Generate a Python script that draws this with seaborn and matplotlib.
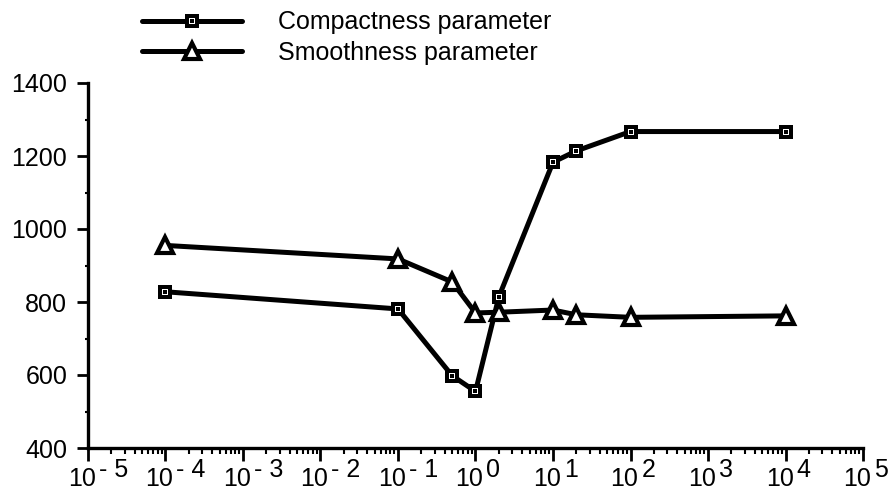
import numpy as np
import pandas as pd
import matplotlib
matplotlib.use("Agg")
import matplotlib.pyplot as plt
import matplotlib.transforms as mtransforms
from matplotlib.ticker import LogLocator, MultipleLocator, FixedLocator, NullFormatter
from matplotlib.legend_handler import HandlerTuple
import seaborn as sns

# ---- data ----
x_values = [1e-4, 1e-1, 0.5, 1, 2, 10, 20, 100, 1e4]
compactness = [828, 781, 598, 555, 814, 1183, 1214, 1267, 1267]
smoothness = [955, 918, 855, 770, 772, 778, 765, 758, 762]
series_labels = ["Compactness parameter", "Smoothness parameter"]
y_ticks = [400, 600, 800, 1000, 1200, 1400]
x_exponents = [-5, -4, -3, -2, -1, 0, 1, 2, 3, 4, 5]

sns.set_theme(style="white")
plt.rcParams["font.family"] = ["Liberation Sans", "DejaVu Sans"]
plt.rcParams["text.color"] = "black"

W, H = 895, 495
fig = plt.figure(figsize=(W / 100, H / 100), dpi=100)
ax = fig.add_axes([88 / W, 1 - 448 / H, (863 - 88) / W, (448 - 83) / H])

df = pd.DataFrame({"x": x_values, "compactness": compactness, "smoothness": smoothness})

# Compactness: black square with white ring and black centre dot
sns.lineplot(data=df, x="x", y="compactness", ax=ax, color="black", lw=3.6,
             marker="s", markersize=10, markerfacecolor="black",
             markeredgecolor="black", markeredgewidth=0, errorbar=None, zorder=3)
lc = ax.lines[-1]
sns.lineplot(data=df, x="x", y="compactness", ax=ax, color="black", linestyle="none",
             marker="s", markersize=5, markerfacecolor="white",
             markeredgecolor="white", markeredgewidth=0, errorbar=None, zorder=4)
lc_w = ax.lines[-1]
sns.lineplot(data=df, x="x", y="compactness", ax=ax, color="black", linestyle="none",
             marker="s", markersize=2.2, markerfacecolor="black",
             markeredgecolor="black", markeredgewidth=0, errorbar=None, zorder=5)
lc_d = ax.lines[-1]

# Smoothness: open triangles
sns.lineplot(data=df, x="x", y="smoothness", ax=ax, color="black", lw=3.6,
             marker="^", markersize=11.5, markerfacecolor="white",
             markeredgecolor="black", markeredgewidth=3, errorbar=None, zorder=6)
ls = ax.lines[-1]

ax.set_xscale("log")
ax.set_xlim(1e-5, 1e5)
ax.set_ylim(400, 1400)
ax.set_xlabel("")
ax.set_ylabel("")

ax.xaxis.set_major_locator(LogLocator(base=10, numticks=20))
ax.xaxis.set_minor_locator(LogLocator(base=10, subs=np.arange(2, 10), numticks=20))
ax.xaxis.set_minor_formatter(NullFormatter())
ax.yaxis.set_major_locator(FixedLocator(y_ticks))
ax.yaxis.set_minor_locator(MultipleLocator(100))

for s in ["top", "right"]:
    ax.spines[s].set_visible(False)
for s in ["left", "bottom"]:
    ax.spines[s].set_linewidth(2.4)
    ax.spines[s].set_color("black")

ax.tick_params(axis="x", which="major", direction="out", length=9, width=2,
               color="black", labelbottom=False, bottom=True)
ax.tick_params(axis="x", which="minor", direction="out", length=4, width=1.5,
               color="black", bottom=True)
ax.tick_params(axis="y", which="major", direction="out", length=8, width=2,
               color="black", labelcolor="black", pad=7, labelsize=18, left=True)
ax.tick_params(axis="y", which="minor", direction="out", length=2.5, width=1.5,
               color="black", left=True)

# x tick labels: "10" with raised exponent
base_trans = mtransforms.blended_transform_factory(ax.transData, ax.transAxes)
for e in x_exponents:
    xv = 10.0 ** e
    t1 = mtransforms.offset_copy(base_trans, fig=fig, x=8, y=-38, units="dots")
    ax.text(xv, 0, "10", transform=t1, ha="right", va="baseline",
            fontsize=18, color="black", clip_on=False)
    t2 = mtransforms.offset_copy(base_trans, fig=fig, x=11, y=-29, units="dots")
    lab = ("- %d" % abs(e)) if e < 0 else str(e)
    ax.text(xv, 0, lab, transform=t2, ha="left", va="baseline",
            fontsize=18, color="black", clip_on=False)

leg = ax.legend(handles=[(lc, lc_w, lc_d), ls], labels=series_labels,
                handler_map={tuple: HandlerTuple(ndivide=1, pad=0)},
                loc="upper left", bbox_to_anchor=(140 / W, 1.0 - 8 / H),
                bbox_transform=fig.transFigure, frameon=False, fontsize=18,
                handlelength=4.0, handletextpad=1.4, borderpad=0.1,
                borderaxespad=0, labelspacing=0.25)
for t in leg.get_texts():
    t.set_color("black")

fig.savefig("out.png", dpi=100, facecolor="white")
